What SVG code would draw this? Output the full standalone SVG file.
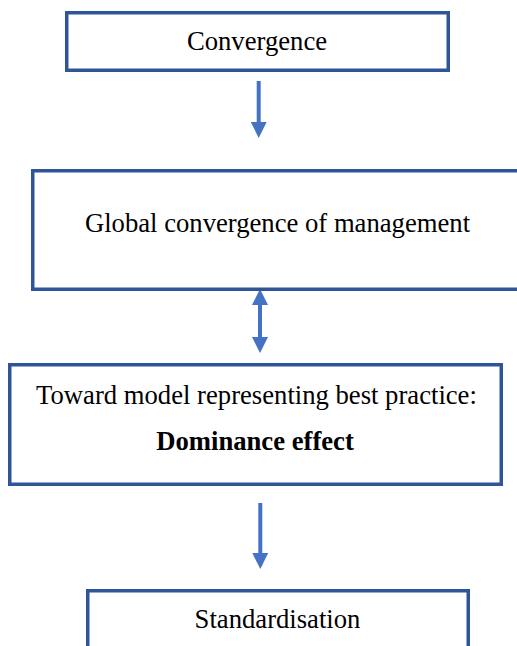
<svg xmlns="http://www.w3.org/2000/svg" width="517" height="646" viewBox="0 0 517 646">
  <style>
    .box { fill: #ffffff; stroke: #2f5597; stroke-width: 3.5; }
    .lbl { font-family: "Liberation Serif", "Times New Roman", serif; font-size: 26.67px; fill: #000000; text-anchor: middle; }
    .bold { font-weight: bold; }
    .conn { stroke: #4472c4; stroke-width: 4; fill: none; }
  </style>
  <defs>
    <marker id="head" markerUnits="userSpaceOnUse" markerWidth="16" markerHeight="16" refX="0" refY="8" orient="auto-start-reverse" viewBox="0 0 16 16">
      <path d="M0,0 L16,8 L0,16 Z" fill="#4472c4"/>
    </marker>
  </defs>
  <rect width="517" height="646" fill="#ffffff"/>

  <g id="connectors">
    <line class="conn" x1="258.7" y1="81" x2="258.7" y2="122" marker-end="url(#head)"/>
    <line class="conn" x1="260" y1="305" x2="260" y2="337" marker-start="url(#head)" marker-end="url(#head)"/>
    <line class="conn" x1="260.3" y1="503" x2="260.3" y2="553" marker-end="url(#head)"/>
  </g>

  <g id="convergence">
    <rect class="box" x="66.75" y="12.75" width="381.5" height="57.5"/>
    <text class="lbl" x="257" y="50">Convergence</text>
  </g>

  <g id="global-convergence">
    <rect class="box" x="32.75" y="170.75" width="500" height="118.5"/>
    <text class="lbl" x="277.5" y="232">Global convergence of management</text>
  </g>

  <g id="best-practice">
    <rect class="box" x="9.75" y="364.75" width="491.5" height="119.5"/>
    <text class="lbl" x="256.5" y="404">Toward model representing best practice:</text>
    <text class="lbl bold" x="255" y="450">Dominance effect</text>
  </g>

  <g id="standardisation">
    <rect class="box" x="87.75" y="590.75" width="380.5" height="80"/>
    <text class="lbl" x="277.5" y="628">Standardisation</text>
  </g>
</svg>
